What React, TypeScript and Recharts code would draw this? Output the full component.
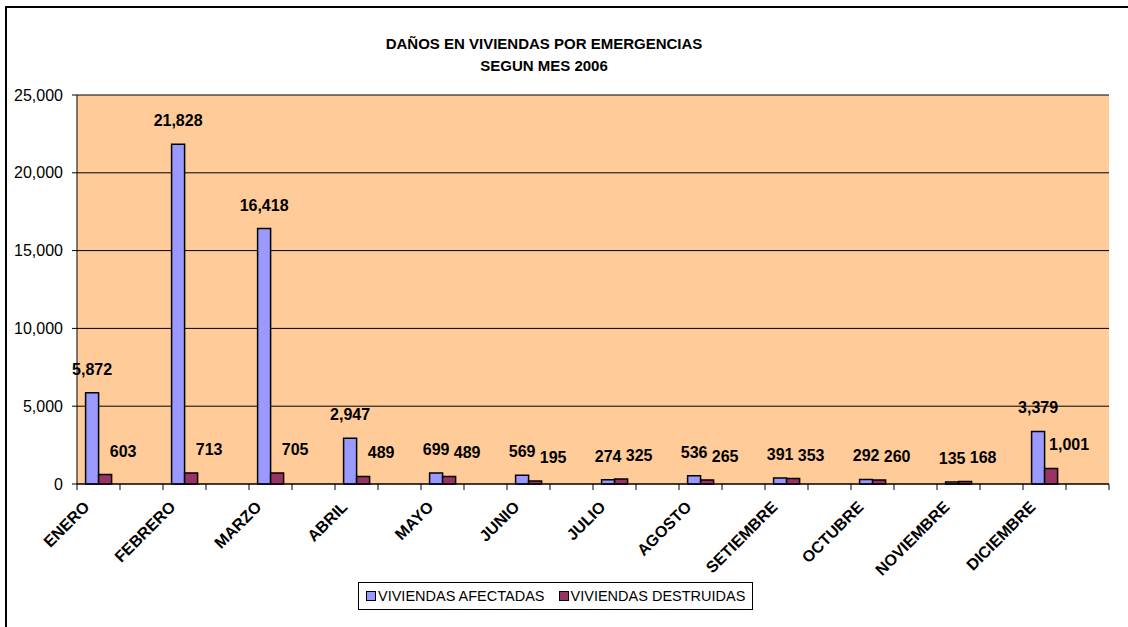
import React from 'react'
import { BarChart, Bar, XAxis, YAxis, CartesianGrid, LabelList } from 'recharts'

const months = ['ENERO', 'FEBRERO', 'MARZO', 'ABRIL', 'MAYO', 'JUNIO', 'JULIO', 'AGOSTO', 'SETIEMBRE', 'OCTUBRE', 'NOVIEMBRE', 'DICIEMBRE']
const afectadas = [5872, 21828, 16418, 2947, 699, 569, 274, 536, 391, 292, 135, 3379]
const destruidas = [603, 713, 705, 489, 489, 195, 325, 265, 353, 260, 168, 1001]
const yTicks = [0, 5000, 10000, 15000, 20000, 25000]

// the sheet had an empty row after every month, so each month sits in the first half of its slot
const rows = months.flatMap((mes, i) => [
  { mes, afectadas: afectadas[i], destruidas: destruidas[i] },
  { mes: '', afectadas: null, destruidas: null },
])

const FONT = '"Liberation Sans", Arial, sans-serif'
const W = 1128
const H = 627
const PLOT_LEFT = 77
const PLOT_RIGHT = 1109
const PLOT_TOP = 95
const PLOT_BOTTOM = 484
const XAXIS_H = 60
const BAND = (PLOT_RIGHT - PLOT_LEFT) / rows.length

const fmt = (v: number) => v.toLocaleString('en-US')

const MonthTick = (props: any) => {
  const { x, payload, index } = props
  const last = index === rows.length - 1
  const ax = x - 8
  const ay = PLOT_BOTTOM + 24
  return (
    <g>
      <line x1={x - BAND / 2} x2={x - BAND / 2} y1={PLOT_BOTTOM} y2={PLOT_BOTTOM + 6} stroke="#000" />
      {last && <line x1={x + BAND / 2} x2={x + BAND / 2} y1={PLOT_BOTTOM} y2={PLOT_BOTTOM + 6} stroke="#000" />}
      {payload.value && (
        <text
          x={ax}
          y={ay}
          transform={`rotate(-45, ${ax}, ${ay})`}
          textAnchor="end"
          fontFamily={FONT}
          fontSize={16}
          fontWeight="bold"
          fill="#000"
        >
          {payload.value}
        </text>
      )}
    </g>
  )
}

const valueLabel = (dx: number) => (props: any) => {
  const { x, y, width, value } = props
  if (value == null) return null
  return (
    <text
      x={x + width / 2 + dx}
      y={y - 18}
      textAnchor="middle"
      fontFamily={FONT}
      fontSize={16}
      fontWeight="bold"
      fill="#000"
    >
      {fmt(value)}
    </text>
  )
}

const Swatch = ({ color }: { color: string }) => (
  <span style={{ display: 'inline-block', flex: 'none', width: 8, height: 8, background: color, border: '1px solid #000', marginRight: 2 }} />
)

export default function App() {
  return (
    <div style={{ position: 'absolute', left: 0, top: 0, width: W, height: H, background: '#fff', overflow: 'hidden', fontFamily: FONT }}>
      <div style={{ position: 'absolute', left: 5, top: 6, width: W, height: H, borderLeft: '2px solid #000', borderTop: '2px solid #000' }} />
      <div style={{ position: 'absolute', left: 0, top: 33, width: 1088, textAlign: 'center', fontSize: 15, fontWeight: 'bold', lineHeight: '22px' }}>
        DAÑOS EN VIVIENDAS POR EMERGENCIAS
        <br />
        SEGUN MES 2006
      </div>
      <div style={{ position: 'absolute', left: 0, top: 0 }}>
        <BarChart
          width={W}
          height={H}
          data={rows}
          margin={{ top: PLOT_TOP, right: W - PLOT_RIGHT, bottom: H - PLOT_BOTTOM - XAXIS_H, left: 0 }}
          barCategoryGap="20%"
          barGap={0}
        >
          <CartesianGrid vertical={false} stroke="#000" fill="#FFCC99" />
          <XAxis
            dataKey="mes"
            interval={0}
            height={XAXIS_H}
            tickLine={false}
            tickSize={6}
            tickMargin={0}
            axisLine={{ stroke: '#000' }}
            tick={<MonthTick />}
          />
          <XAxis xAxisId="top" orientation="top" dataKey="mes" height={0} tick={false} tickLine={false} axisLine={{ stroke: '#808080', strokeWidth: 2 }} />
          <YAxis
            width={PLOT_LEFT}
            domain={[0, 25000]}
            ticks={yTicks}
            tickFormatter={fmt}
            tickSize={5}
            tickMargin={9}
            tickLine={{ stroke: '#000' }}
            axisLine={{ stroke: '#000' }}
            tick={{ fill: '#000', fontSize: 16, fontFamily: FONT }}
          />
          <YAxis yAxisId="right" orientation="right" width={0} tick={false} tickLine={false} axisLine={{ stroke: '#808080', strokeWidth: 2 }} />
          <Bar dataKey="afectadas" fill="#9999FF" stroke="#000" strokeWidth={1.5} isAnimationActive={false}>
            <LabelList dataKey="afectadas" content={valueLabel(0)} />
          </Bar>
          <Bar dataKey="destruidas" fill="#993366" stroke="#000" strokeWidth={1.5} isAnimationActive={false}>
            <LabelList dataKey="destruidas" content={valueLabel(18)} />
          </Bar>
        </BarChart>
      </div>
      <div
        style={{
          position: 'absolute',
          left: 358,
          top: 582,
          width: 395,
          height: 28,
          boxSizing: 'border-box',
          border: '1px solid #000',
          display: 'flex',
          alignItems: 'center',
          paddingLeft: 7,
          fontSize: 14.5,
          whiteSpace: 'nowrap',
          background: '#fff',
        }}
      >
        <Swatch color="#9999FF" />
        <span>VIVIENDAS AFECTADAS</span>
        <span style={{ width: 14, flex: 'none' }} />
        <Swatch color="#993366" />
        <span>VIVIENDAS DESTRUIDAS</span>
      </div>
    </div>
  )
}
